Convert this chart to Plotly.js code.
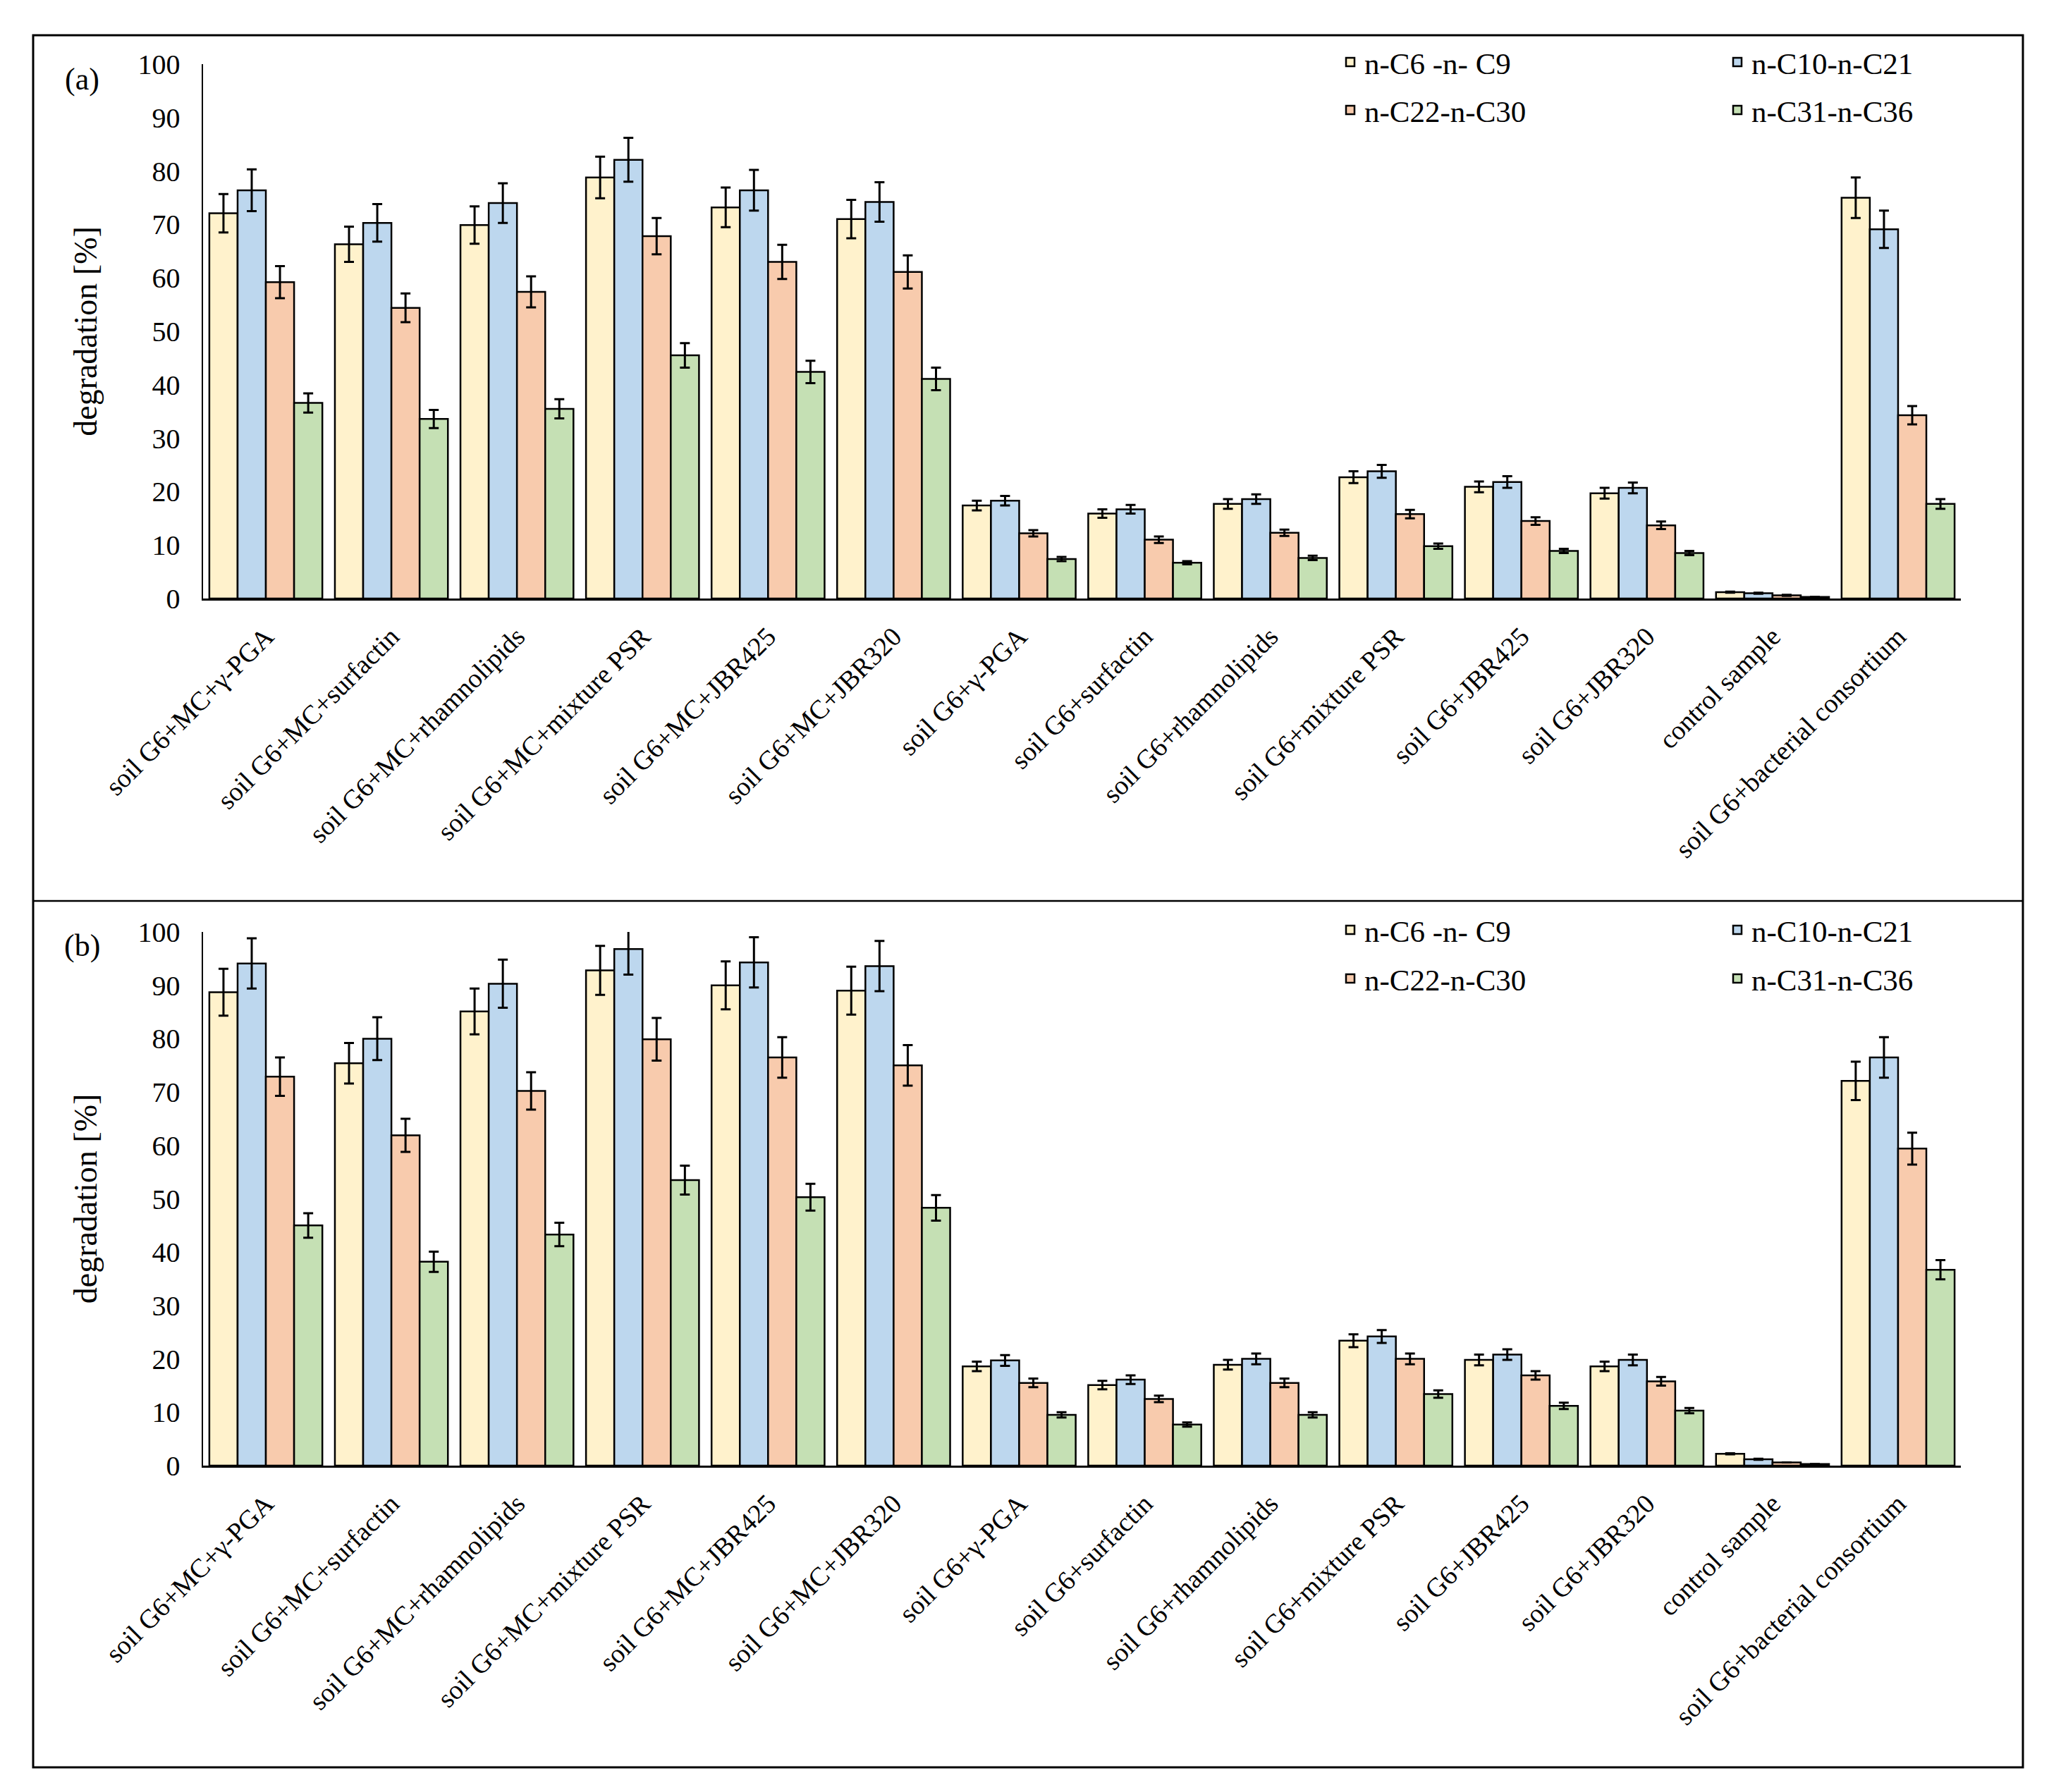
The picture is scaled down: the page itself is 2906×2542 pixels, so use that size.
<!DOCTYPE html>
<html>
<head>
<meta charset="utf-8">
<script src="https://cdn.plot.ly/plotly-3.0.1.min.js"></script>
<style>html,body{margin:0;padding:0;background:#fff;}</style>
</head>
<body>
<div id="chart" style="width:2906px;height:2542px;"></div>
<script>
const categories = ["soil G6+MC+γ-PGA", "soil G6+MC+surfactin", "soil G6+MC+rhamnolipids", "soil G6+MC+mixture PSR", "soil G6+MC+JBR425", "soil G6+MC+JBR320", "soil G6+γ-PGA", "soil G6+surfactin", "soil G6+rhamnolipids", "soil G6+mixture PSR", "soil G6+JBR425", "soil G6+JBR320", "control sample", "soil G6+bacterial consortium"];
const seriesNames = ["n-C6 -n- C9", "n-C10-n-C21", "n-C22-n-C30", "n-C31-n-C36"];
const yTicks = [0, 10, 20, 30, 40, 50, 60, 70, 80, 90, 100];

// Panel (a)
const a_C6_C9   = [72.1, 66.3, 69.9, 78.8, 73.2, 71.0, 17.4, 15.9, 17.7, 22.7, 20.9, 19.7, 1.2, 75.0];
const a_C6_C9_err = [3.6, 3.3, 3.5, 3.9, 3.7, 3.6, 0.9, 0.8, 0.9, 1.1, 1.0, 1.0, 0.1, 3.8];
const a_C10_C21 = [76.4, 70.3, 74.0, 82.1, 76.4, 74.2, 18.3, 16.7, 18.6, 23.8, 21.8, 20.7, 1.0, 69.1];
const a_C10_C21_err = [3.9, 3.5, 3.7, 4.1, 3.8, 3.7, 0.9, 0.8, 0.9, 1.2, 1.1, 1.0, 0.1, 3.5];
const a_C22_C30 = [59.2, 54.4, 57.4, 67.8, 63.0, 61.1, 12.2, 11.0, 12.3, 15.8, 14.5, 13.7, 0.6, 34.3];
const a_C22_C30_err = [3.0, 2.7, 2.9, 3.4, 3.2, 3.1, 0.6, 0.6, 0.6, 0.8, 0.7, 0.7, 0.1, 1.7];
const a_C31_C36 = [36.6, 33.6, 35.5, 45.5, 42.4, 41.1, 7.4, 6.7, 7.6, 9.8, 8.9, 8.5, 0.3, 17.7];
const a_C31_C36_err = [1.8, 1.7, 1.8, 2.3, 2.1, 2.1, 0.4, 0.3, 0.4, 0.5, 0.4, 0.4, 0.0, 0.9];

// Panel (b)
const b_C6_C9   = [88.7, 75.4, 85.1, 92.8, 90.0, 89.0, 18.6, 15.1, 18.9, 23.4, 19.8, 18.6, 2.2, 72.1];
const b_C6_C9_err = [4.4, 3.8, 4.3, 4.6, 4.5, 4.5, 0.9, 0.8, 0.9, 1.2, 1.0, 0.9, 0.1, 3.6];
const b_C10_C21 = [94.1, 80.0, 90.3, 96.8, 94.3, 93.6, 19.7, 16.1, 20.0, 24.2, 20.8, 19.8, 1.2, 76.5];
const b_C10_C21_err = [4.7, 4.0, 4.5, 4.8, 4.7, 4.7, 1.0, 0.8, 1.0, 1.2, 1.0, 1.0, 0.1, 3.8];
const b_C22_C30 = [72.9, 61.9, 70.2, 79.9, 76.5, 75.0, 15.5, 12.5, 15.5, 20.0, 16.9, 15.8, 0.6, 59.4];
const b_C22_C30_err = [3.6, 3.1, 3.5, 4.0, 3.8, 3.8, 0.8, 0.6, 0.8, 1.0, 0.8, 0.8, 0.0, 3.0];
const b_C31_C36 = [45.0, 38.2, 43.3, 53.5, 50.3, 48.3, 9.5, 7.7, 9.5, 13.4, 11.2, 10.3, 0.3, 36.7];
const b_C31_C36_err = [2.3, 1.9, 2.2, 2.7, 2.5, 2.4, 0.5, 0.4, 0.5, 0.7, 0.6, 0.5, 0.0, 1.8];

const colors = ["#FFF2CC", "#BDD7EE", "#F8CBAD", "#C5E0B4"];
const FONT = "Liberation Serif, Times New Roman, serif";

function bar(name, y, err, color, xa, ya, legend) {
  return {
    type: "bar", name: name, x: categories, y: y,
    xaxis: xa, yaxis: ya, legend: legend,
    marker: {color: color, line: {color: "#000", width: 2.5}},
    error_y: {type: "data", array: err, visible: true, color: "#000", thickness: 3, width: 7},
    cliponaxis: false
  };
}

const data = [
  bar(seriesNames[0], a_C6_C9, a_C6_C9_err, colors[0], "x", "y", "legend"),
  bar(seriesNames[1], a_C10_C21, a_C10_C21_err, colors[1], "x", "y", "legend2"),
  bar(seriesNames[2], a_C22_C30, a_C22_C30_err, colors[2], "x", "y", "legend3"),
  bar(seriesNames[3], a_C31_C36, a_C31_C36_err, colors[3], "x", "y", "legend4"),
  bar(seriesNames[0], b_C6_C9, b_C6_C9_err, colors[0], "x2", "y2", "legend5"),
  bar(seriesNames[1], b_C10_C21, b_C10_C21_err, colors[1], "x2", "y2", "legend6"),
  bar(seriesNames[2], b_C22_C30, b_C22_C30_err, colors[2], "x2", "y2", "legend7"),
  bar(seriesNames[3], b_C31_C36, b_C31_C36_err, colors[3], "x2", "y2", "legend8")
];

const W = 2906, H = 2542;
const px = v => v / W;
const py = v => 1 - v / H;

const xdom = [px(288), px(2781)];
function xaxis(anchor) {
  return {
    domain: xdom, anchor: anchor, type: "category",
    showline: true, linecolor: "#000", linewidth: 2.5,
    ticks: "", tickangle: -45, ticklabelstandoff: 14,
    tickfont: {family: FONT, size: 38, color: "#000"},
    showgrid: false, zeroline: false, fixedrange: true
  };
}
function yaxis(anchor, dom) {
  return {
    domain: dom, anchor: anchor, range: [0, 100],
    tickvals: yTicks, ticktext: yTicks.map(String),
    showline: true, linecolor: "#000", linewidth: 2.5,
    ticks: "", ticklabelstandoff: 22,
    tickfont: {family: FONT, size: 40, color: "#000"},
    showgrid: false, zeroline: false, fixedrange: true,
    title: {text: "degradation [%]", font: {family: FONT, size: 46, color: "#000"}, standoff: 44}
  };
}
function legend(xpix, ypix) {
  return {
    x: px(xpix), y: py(ypix), xanchor: "left", yanchor: "middle",
    orientation: "v", bgcolor: "rgba(0,0,0,0)",
    font: {family: FONT, size: 43, color: "#000"}, itemwidth: 30
  };
}

const col1 = 1895, col2 = 2444;
const layout = {
  width: W, height: H,
  margin: {l: 0, r: 0, t: 0, b: 0},
  paper_bgcolor: "#fff", plot_bgcolor: "rgba(0,0,0,0)",
  barmode: "group", bargap: 0.1, bargroupgap: 0,
  font: {family: FONT, color: "#000"},
  showlegend: true,
  xaxis: xaxis("y"),
  yaxis: yaxis("x", [py(849), py(91)]),
  xaxis2: xaxis("y2"),
  yaxis2: yaxis("x2", [py(2079), py(1322)]),
  legend: legend(col1, 88),
  legend2: legend(col2, 88),
  legend3: legend(col1, 156),
  legend4: legend(col2, 156),
  legend5: legend(col1, 1319),
  legend6: legend(col2, 1319),
  legend7: legend(col1, 1388),
  legend8: legend(col2, 1388),
  shapes: [
    {type: "rect", xref: "paper", yref: "paper", x0: px(47), x1: px(2869), y0: py(2507), y1: py(50), line: {color: "#000", width: 3}},
    {type: "line", xref: "paper", yref: "paper", x0: px(47), x1: px(2869), y0: py(1278), y1: py(1278), line: {color: "#000", width: 2.5}}
  ],
  annotations: [
    {text: "(a)", xref: "paper", yref: "paper", x: px(117), y: py(112), xanchor: "center", yanchor: "middle", showarrow: false, font: {family: FONT, size: 44, color: "#000"}},
    {text: "(b)", xref: "paper", yref: "paper", x: px(117), y: py(1341), xanchor: "center", yanchor: "middle", showarrow: false, font: {family: FONT, size: 44, color: "#000"}}
  ]
};

Plotly.newPlot("chart", data, layout, {displayModeBar: false, staticPlot: true});
</script>
</body>
</html>
